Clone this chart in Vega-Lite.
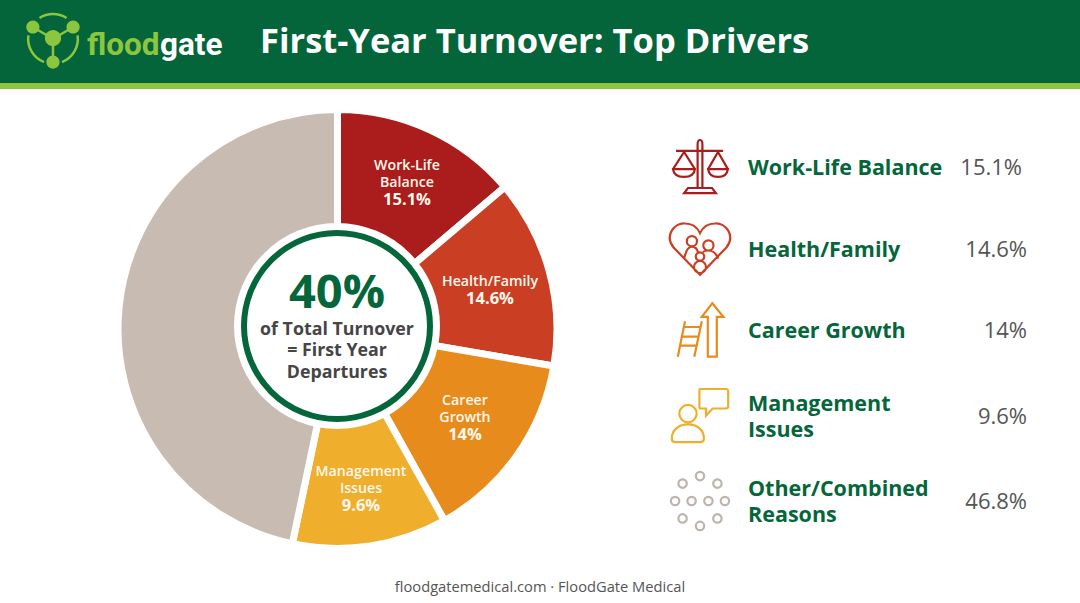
{
  "$schema": "https://vega.github.io/schema/vega-lite/v6.json",
  "description": "First-year turnover drivers, FloodGate Medical",
  "width": 1080,
  "height": 603,
  "autosize": {"type": "none"},
  "padding": 0,
  "background": "white",
  "config": {
    "view": {"stroke": null},
    "axis": {"disable": true},
    "text": {"font": "Open Sans"}
  },
  "datasets": {
    "drivers": [
      {"rank": 1, "driver": "Work-Life Balance", "wedge": "Work-Life\nBalance", "item": "Work-Life Balance", "share": "15.1%", "sweep": 13.8},
      {"rank": 2, "driver": "Health/Family", "wedge": "\nHealth/Family", "item": "Health/Family", "share": "14.6%", "sweep": 13.9},
      {"rank": 3, "driver": "Career Growth", "wedge": "Career\nGrowth", "item": "Career Growth", "share": "14%", "sweep": 14.2},
      {"rank": 4, "driver": "Management Issues", "wedge": "Management\nIssues", "item": "Management\nIssues", "share": "9.6%", "sweep": 11.4},
      {"rank": 5, "driver": "Other/Combined Reasons", "wedge": "", "item": "Other/Combined\nReasons", "share": "46.8%", "sweep": 46.7}
    ]
  },
  "data": {"name": "drivers"},
  "resolve": {"scale": {"x": "independent", "y": "independent", "color": "independent"}},
  "layer": [
    {
      "layer": [
        {
          "data": {"values": [{}]},
          "mark": {"type": "rect", "fill": "#04643a"},
          "encoding": {
            "x": {"datum": 0, "scale": {"domain": [0, 1080], "nice": false}},
            "x2": {"datum": 1080},
            "y": {"datum": 0, "scale": {"domain": [603, 0], "nice": false}},
            "y2": {"datum": 83}
          }
        },
        {
          "data": {"values": [{}]},
          "mark": {"type": "rect", "fill": "#8cc63f"},
          "encoding": {"x": {"datum": 0}, "x2": {"datum": 1080}, "y": {"datum": 83}, "y2": {"datum": 89}}
        },
        {
          "data": {"values": [{}]},
          "mark": {"type": "point", "shape": "M-0.45 -0.7A0.83 0.83 0 0 1 0.45 -0.7M0.82 -0.12A0.83 0.83 0 0 1 0.3 0.77M-0.82 -0.12A0.83 0.83 0 0 0 -0.3 0.77M0 0L-0.67 -0.4M0 0L0.67 -0.4M0 0L0 0.77", "size": 3600, "filled": false, "stroke": "#8cc63f", "strokeWidth": 2.5, "opacity": 1},
          "encoding": {"x": {"datum": 53}, "y": {"datum": 39}}
        },
        {
          "data": {"values": [{}]},
          "mark": {"type": "point", "shape": "M-0.27 -0.03a0.27 0.27 0 1 0 0.54 0a0.27 0.27 0 1 0 -0.54 0ZM-0.89 -0.4a0.22 0.22 0 1 0 0.44 0a0.22 0.22 0 1 0 -0.44 0ZM0.45 -0.4a0.22 0.22 0 1 0 0.44 0a0.22 0.22 0 1 0 -0.44 0ZM-0.22 0.77a0.22 0.22 0 1 0 0.44 0a0.22 0.22 0 1 0 -0.44 0Z", "size": 3600, "filled": true, "fill": "#8cc63f", "opacity": 1},
          "encoding": {"x": {"datum": 53}, "y": {"datum": 39}}
        },
        {
          "data": {"values": [{"t": "flood"}]},
          "mark": {"type": "text", "font": "Roboto", "fontWeight": "bold", "fontSize": 31.5, "align": "left", "baseline": "alphabetic", "fill": "#8cc63f"},
          "encoding": {"x": {"datum": 87}, "y": {"datum": 55}, "text": {"field": "t"}}
        },
        {
          "data": {"values": [{"t": "gate"}]},
          "mark": {"type": "text", "font": "Roboto", "fontWeight": "bold", "fontSize": 31.5, "align": "right", "baseline": "alphabetic", "fill": "white"},
          "encoding": {"x": {"datum": 222.5}, "y": {"datum": 55}, "text": {"field": "t"}}
        },
        {
          "data": {"values": [{"t": "First-Year Turnover: Top Drivers"}]},
          "mark": {"type": "text", "fontWeight": "bold", "fontSize": 34.5, "align": "left", "baseline": "middle", "fill": "white"},
          "encoding": {"x": {"datum": 260}, "y": {"datum": 43}, "text": {"field": "t"}}
        },
        {
          "mark": {"type": "arc", "outerRadius": 219.5, "innerRadius": 60, "stroke": "white", "strokeWidth": 7},
          "encoding": {
            "x": {"datum": 337.5},
            "y": {"datum": 329},
            "theta": {"field": "sweep", "type": "quantitative", "stack": true, "scale": {"domain": [0, 100]}},
            "order": {"field": "rank"},
            "color": {
              "field": "driver",
              "legend": null,
              "scale": {
                "domain": ["Work-Life Balance", "Health/Family", "Career Growth", "Management Issues", "Other/Combined Reasons"],
                "range": ["#ab1c1c", "#ca3f24", "#e88b1d", "#efae2c", "#c8bcb2"]
              }
            }
          }
        },
        {
          "data": {"values": [{}]},
          "mark": {"type": "point", "shape": "circle", "size": 42436, "filled": true, "fill": "white", "opacity": 1},
          "encoding": {"x": {"datum": 337}, "y": {"datum": 326}}
        },
        {
          "data": {"values": [{}]},
          "mark": {"type": "point", "shape": "circle", "size": 34596, "filled": false, "stroke": "#04663a", "strokeWidth": 6, "opacity": 1},
          "encoding": {"x": {"datum": 337}, "y": {"datum": 326}}
        },
        {
          "data": {"values": [{"t": "40%"}]},
          "mark": {"type": "text", "fontWeight": "bold", "fontSize": 47, "baseline": "middle", "fill": "#04663a"},
          "encoding": {"x": {"datum": 337}, "y": {"datum": 294}, "text": {"field": "t"}}
        },
        {
          "data": {"values": [{"t": "of Total Turnover\n= First Year\nDepartures"}]},
          "mark": {"type": "text", "fontWeight": "bold", "fontSize": 17.8, "lineHeight": 21.5, "lineBreak": "\n", "baseline": "middle", "fill": "#454545"},
          "encoding": {"x": {"datum": 337}, "y": {"datum": 329.5}, "text": {"field": "t"}}
        },
        {
          "data": {"values": [{"t": "floodgatemedical.com · FloodGate Medical"}]},
          "mark": {"type": "text", "fontSize": 14.7, "baseline": "middle", "fill": "#555555"},
          "encoding": {"x": {"datum": 540}, "y": {"datum": 588}, "text": {"field": "t"}}
        }
      ]
    },
    {
      "transform": [{"filter": "datum.rank < 5"}],
      "encoding": {
        "x": {
          "field": "rank",
          "type": "quantitative",
          "scale": {"domain": [1, 2, 3, 4], "range": [407, 490, 465, 361], "zero": false, "nice": false}
        },
        "y": {
          "field": "rank",
          "type": "quantitative",
          "scale": {"domain": [1, 2, 3, 4], "range": [184, 282.5, 418.5, 489.5], "zero": false, "nice": false}
        }
      },
      "layer": [
        {
          "mark": {"type": "text", "fontWeight": 600, "fontSize": 14.2, "lineHeight": 17, "lineBreak": "\n", "baseline": "middle", "dy": -18, "fill": "#fff8ec"},
          "encoding": {"text": {"field": "wedge"}}
        },
        {
          "mark": {"type": "text", "fontWeight": "bold", "fontSize": 16.5, "baseline": "middle", "dy": 16, "fill": "#fff8ec"},
          "encoding": {"text": {"field": "share"}}
        }
      ]
    },
    {
      "encoding": {
        "y": {
          "field": "rank",
          "type": "quantitative",
          "scale": {"domain": [1, 2, 3, 4, 5], "range": [167, 249, 330, 416, 501], "zero": false, "nice": false}
        }
      },
      "layer": [
        {
          "mark": {"type": "point", "size": 3600, "filled": false, "strokeWidth": 2.2, "opacity": 1},
          "encoding": {
            "x": {"datum": 700, "scale": {"domain": [0, 1080], "nice": false}},
            "stroke": {
              "field": "driver",
              "legend": null,
              "scale": {
                "domain": ["Work-Life Balance", "Health/Family", "Career Growth", "Management Issues", "Other/Combined Reasons"],
                "range": ["#ab1c1c", "#ca3f24", "#e88b1d", "#efae2c", "#bdb4ac"]
              }
            },
            "shape": {
              "field": "driver",
              "legend": null,
              "scale": {
                "domain": ["Work-Life Balance", "Health/Family", "Career Growth", "Management Issues", "Other/Combined Reasons"],
                "range": [
                  "M-0.8 -0.54L0.77 -0.54M-0.08 0.7V-0.75Q-0.08 -0.9 0 -0.9Q0.08 -0.9 0.08 -0.75V0.7M-0.53 0.87L-0.4 0.7H0.4L0.53 0.87ZM-0.53 -0.5L-0.9 0.07M-0.53 -0.5L-0.17 0.07M-0.9 0.07H-0.17Q-0.2 0.33 -0.53 0.33Q-0.87 0.33 -0.9 0.07ZM0.6 -0.5L0.27 0.07M0.6 -0.5L0.93 0.07M0.27 0.07H0.93Q0.9 0.33 0.6 0.33Q0.3 0.33 0.27 0.07Z",
                  "M0 0.86L-0.88 -0.05C-1.2 -0.45 -0.85 -0.88 -0.5 -0.85C-0.25 -0.85 -0.08 -0.7 0 -0.53C0.08 -0.7 0.25 -0.85 0.5 -0.85C0.85 -0.88 1.2 -0.45 0.88 -0.05ZM-0.44 -0.26a0.17 0.17 0 1 0 0.34 0a0.17 0.17 0 1 0 -0.34 0ZM0.11 -0.12a0.17 0.17 0 1 0 0.34 0a0.17 0.17 0 1 0 -0.34 0ZM-0.14 0.25a0.14 0.14 0 1 0 0.28 0a0.14 0.14 0 1 0 -0.28 0ZM-0.2 0.6a0.2 0.2 0 1 0 0.4 0a0.2 0.2 0 1 0 -0.4 0ZM-0.53 0.33Q-0.45 -0.08 -0.27 -0.08Q-0.12 -0.08 -0.07 0.1M0.61 0.32Q0.5 0.05 0.28 0.05Q0.15 0.05 0.1 0.1",
                  "M0.41 -0.89L0.78 -0.44H0.56V0.89H0.26V-0.44H0.06ZM-0.5 -0.29L-0.74 0.89M0.06 -0.29L-0.19 0.89M-0.54 -0.1H0.02M-0.6 0.22H-0.04M-0.66 0.52H-0.1",
                  "M0 -0.9H0.86Q0.94 -0.9 0.94 -0.82V-0.33Q0.94 -0.25 0.86 -0.25H0.42L0.2 -0.01V-0.25H0.11L0 -0.25Q-0.02 -0.25 -0.02 -0.33V-0.82Q-0.02 -0.9 0 -0.9ZM-0.69 -0.08a0.29 0.29 0 1 0 0.58 0a0.29 0.29 0 1 0 -0.58 0ZM-0.94 0.75C-0.94 0.45 -0.7 0.28 -0.4 0.28C-0.1 0.28 0.13 0.45 0.13 0.75Q0.13 0.87 0 0.87H-0.82Q-0.94 0.87 -0.94 0.75Z",
                  "M-0.14 -0.83a0.14 0.14 0 1 0 0.28 0a0.14 0.14 0 1 0 -0.28 0ZM-0.72 -0.58a0.14 0.14 0 1 0 0.28 0a0.14 0.14 0 1 0 -0.28 0ZM0.44 -0.58a0.14 0.14 0 1 0 0.28 0a0.14 0.14 0 1 0 -0.28 0ZM-0.97 0a0.14 0.14 0 1 0 0.28 0a0.14 0.14 0 1 0 -0.28 0ZM-0.42 0a0.14 0.14 0 1 0 0.28 0a0.14 0.14 0 1 0 -0.28 0ZM0.14 0a0.14 0.14 0 1 0 0.28 0a0.14 0.14 0 1 0 -0.28 0ZM0.69 0a0.14 0.14 0 1 0 0.28 0a0.14 0.14 0 1 0 -0.28 0ZM-0.72 0.58a0.14 0.14 0 1 0 0.28 0a0.14 0.14 0 1 0 -0.28 0ZM0.44 0.58a0.14 0.14 0 1 0 0.28 0a0.14 0.14 0 1 0 -0.28 0ZM-0.14 0.83a0.14 0.14 0 1 0 0.28 0a0.14 0.14 0 1 0 -0.28 0Z"
                ]
              }
            }
          }
        },
        {
          "transform": [{"filter": "indexof(datum.item, '\\n') < 0"}],
          "mark": {"type": "text", "align": "left", "baseline": "middle", "dy": 2, "fontWeight": "bold", "fontSize": 21.5, "fill": "#04663a"},
          "encoding": {"x": {"datum": 748}, "text": {"field": "item"}}
        },
        {
          "transform": [{"filter": "indexof(datum.item, '\\n') >= 0"}],
          "mark": {"type": "text", "align": "left", "baseline": "middle", "dy": -11, "fontWeight": "bold", "fontSize": 21.5, "lineHeight": 26, "lineBreak": "\n", "fill": "#04663a"},
          "encoding": {"x": {"datum": 748}, "text": {"field": "item"}}
        },
        {
          "transform": [{"filter": "datum.rank > 1"}],
          "mark": {"type": "text", "align": "right", "baseline": "middle", "dy": 1, "fontSize": 22, "fill": "#555555"},
          "encoding": {"x": {"datum": 1027}, "text": {"field": "share"}}
        },
        {
          "transform": [{"filter": "datum.rank == 1"}],
          "mark": {"type": "text", "align": "right", "baseline": "middle", "dy": 1, "fontSize": 22, "fill": "#555555"},
          "encoding": {"x": {"datum": 1022}, "text": {"field": "share"}}
        }
      ]
    }
  ]
}
